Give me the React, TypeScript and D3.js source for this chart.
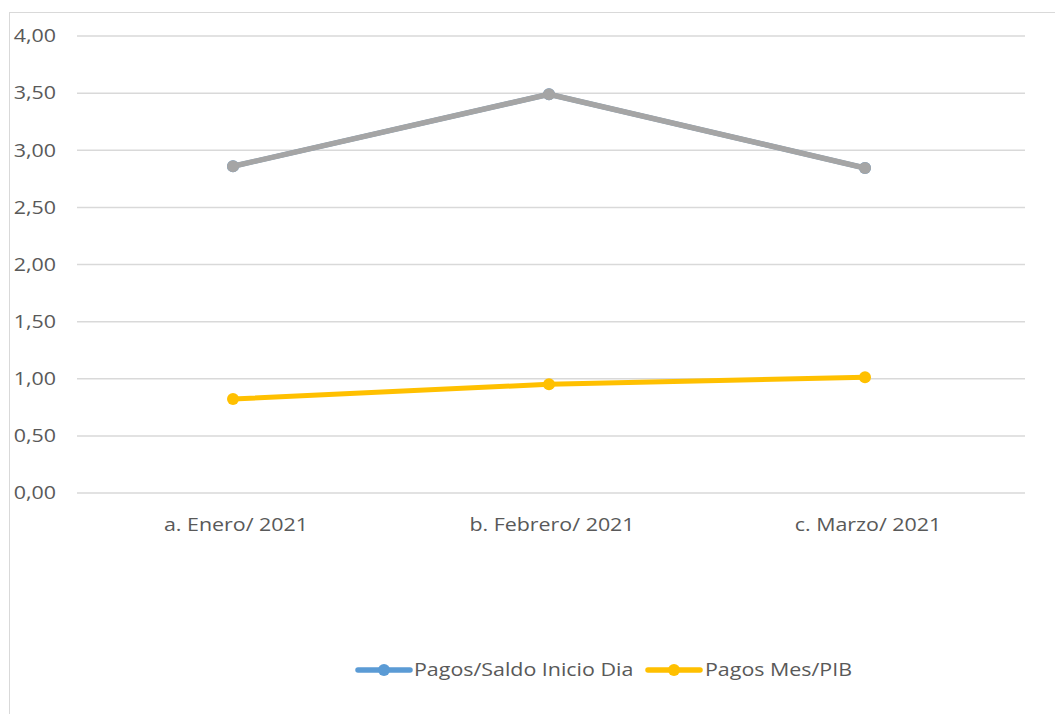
import React from "react";
import * as d3 from "d3";

const categories = ["a. Enero/ 2021", "b. Febrero/ 2021", "c. Marzo/ 2021"];
const saldoValues = [2.86, 3.49, 2.845];
const grayValues = [2.86, 3.49, 2.845];
const pibValues = [0.823, 0.952, 1.013];
const yTicks = [0, 0.5, 1, 1.5, 2, 2.5, 3, 3.5, 4];
const legendItems = [
  { name: "Pagos/Saldo Inicio Dia", color: "#5b9bd5" },
  { name: "Pagos Mes/PIB", color: "#ffc000" },
];

const W = 1055;
const H = 714;
const FONT = "'Open Sans', sans-serif";
const SX = 1.19;

function T(props: { x: number; y: number; anchor?: string; children: React.ReactNode }) {
  return (
    <g transform={`translate(${props.x},${props.y}) scale(${SX},1)`}>
      <text
        x={0}
        y={0}
        dy="0.35em"
        textAnchor={props.anchor || "start"}
        fontFamily={FONT}
        fontSize={18}
        fill="#595959"
      >
        {props.children}
      </text>
    </g>
  );
}

export default function App() {
  const x = d3.scalePoint<string>().domain(categories).range([233, 865]);
  const y = d3.scaleLinear().domain([0, 4]).range([493, 36]);
  const line = d3
    .line<number>()
    .x((_, i) => x(categories[i]) as number)
    .y((d) => y(d));

  const series = [
    { values: saldoValues, color: "#5b9bd5", w: 5 },
    { values: grayValues, color: "#a5a5a5", w: 5.5 },
    { values: pibValues, color: "#ffc000", w: 5 },
  ];

  const legendX = [358, 648];
  const legendTextX = [414, 705];

  return (
    <svg
      width={W}
      height={H}
      style={{ position: "absolute", left: 0, top: 0, background: "#fff" }}
    >
      <rect x={9.5} y={12.5} width={W + 10} height={H + 10} fill="#fff" stroke="#d9d9d9" strokeWidth={1} />
      {yTicks.map((t) => (
        <g key={t}>
          <line x1={77} x2={1025} y1={y(t)} y2={y(t)} stroke="#d9d9d9" strokeWidth={1.5} />
          <T x={56} y={y(t)} anchor="end">
            {d3.format(".2f")(t).replace(".", ",")}
          </T>
        </g>
      ))}
      {categories.map((c) => (
        <T key={c} x={(x(c) as number) + 3} y={525} anchor="middle">
          {c}
        </T>
      ))}
      {series.map((s, si) => (
        <g key={si}>
          <path d={line(s.values) || ""} fill="none" stroke={s.color} strokeWidth={s.w} strokeLinejoin="round" strokeLinecap="round" />
          {s.values.map((v, i) => (
            <circle key={i} cx={x(categories[i])} cy={y(v)} r={6} fill={s.color} />
          ))}
        </g>
      ))}
      {legendItems.map((l, i) => (
        <g key={l.name}>
          <line x1={legendX[i]} x2={legendX[i] + 52} y1={670} y2={670} stroke={l.color} strokeWidth={5.5} strokeLinecap="round" />
          <circle cx={legendX[i] + 26} cy={670} r={6} fill={l.color} />
          <T x={legendTextX[i]} y={670}>
            {l.name}
          </T>
        </g>
      ))}
    </svg>
  );
}
